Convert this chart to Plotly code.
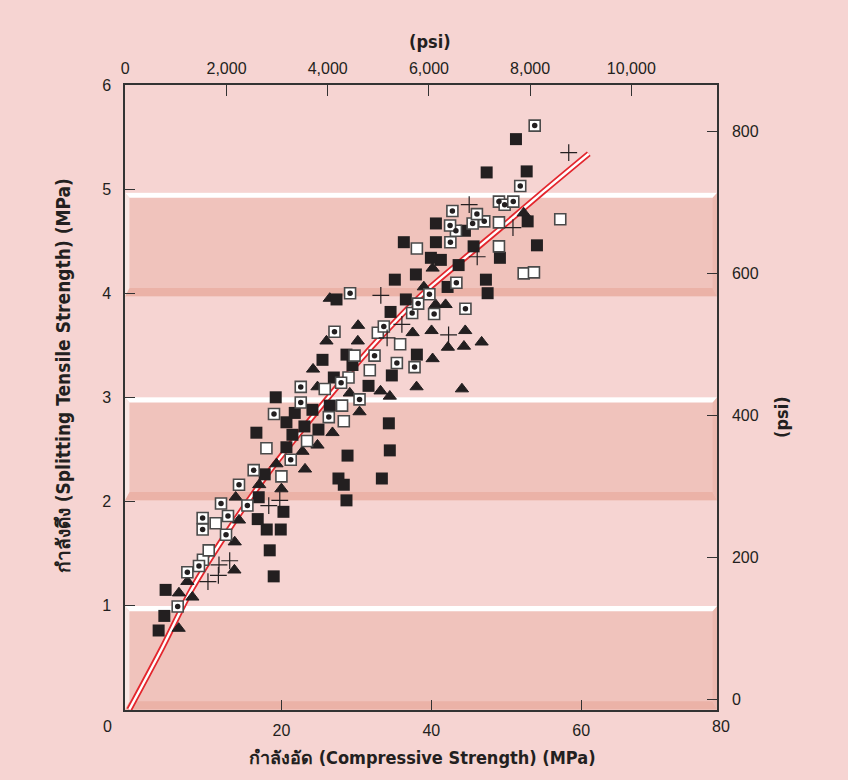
import plotly.graph_objects as go

# ---------------- data (MPa) ----------------
# Filled black squares
sq_x = [3.62, 4.38, 4.55, 18.97, 18.44, 18.04, 19.91, 16.84, 20.27, 16.97, 28.68, 17.77, 27.61, 28.32,
        33.40, 34.46, 28.82, 20.67, 16.66, 21.47, 24.94, 23.07, 20.67, 34.33, 21.78, 24.14, 26.45, 19.24,
        31.62, 26.99, 34.73, 29.48, 25.48, 28.68, 38.07, 34.56, 27.35, 36.60, 47.51, 42.17, 47.28, 35.13,
        37.94, 43.64, 41.27, 39.94, 49.15, 45.64, 54.09, 36.33, 40.61, 44.48, 40.61, 52.85, 47.38, 52.72, 51.29]
sq_y = [0.76, 0.90, 1.15, 1.28, 1.53, 1.73, 1.73, 1.83, 1.90, 2.04, 2.01, 2.26, 2.22, 2.16,
        2.22, 2.49, 2.44, 2.52, 2.66, 2.64, 2.69, 2.72, 2.76, 2.75, 2.85, 2.88, 2.92, 3.00,
        3.11, 3.19, 3.21, 3.31, 3.36, 3.41, 3.41, 3.82, 3.94, 3.94, 4.00, 4.06, 4.13, 4.13,
        4.18, 4.27, 4.32, 4.34, 4.34, 4.45, 4.46, 4.49, 4.49, 4.60, 4.67, 4.69, 5.16, 5.17, 5.48]

# Open squares with a centre dot
dot_x = [6.16, 7.45, 9.00, 9.49, 9.49, 12.61, 12.87, 11.94, 15.46, 14.34, 16.30, 21.24, 19.01, 22.58,
         26.32, 30.42, 22.58, 27.96, 32.42, 35.40, 37.76, 27.08, 33.66, 29.16, 37.44, 40.37, 38.24, 44.55,
         39.74, 43.34, 42.54, 43.28, 42.50, 45.51, 47.06, 46.08, 42.81, 49.02, 49.78, 50.93, 51.86, 53.79]
dot_y = [0.99, 1.32, 1.38, 1.73, 1.84, 1.68, 1.86, 1.98, 1.96, 2.16, 2.30, 2.40, 2.84, 2.95,
         2.81, 2.98, 3.10, 3.14, 3.40, 3.33, 3.29, 3.63, 3.68, 4.00, 3.81, 3.80, 3.90, 3.85,
         3.99, 4.10, 4.49, 4.60, 4.65, 4.67, 4.69, 4.76, 4.79, 4.88, 4.85, 4.88, 5.03, 5.61]

# Open (white) squares
osq_x = [9.53, 10.30, 11.23, 20.00, 18.00, 23.42, 28.32, 28.09, 25.78, 28.95, 31.79, 29.75, 32.86,
         35.84, 38.07, 49.02, 49.02, 57.20, 52.32, 53.69]
osq_y = [1.44, 1.53, 1.79, 2.24, 2.51, 2.58, 2.77, 2.92, 3.08, 3.19, 3.26, 3.40, 3.62,
         3.51, 4.43, 4.68, 4.45, 4.71, 4.19, 4.20]

# Filled triangles
tri_x = [6.29, 6.33, 8.12, 7.45, 13.73, 13.77, 14.34, 13.90, 17.04, 20.00, 19.34, 23.15, 22.81, 24.81,
         26.81, 30.42, 29.12, 24.81, 33.22, 34.46, 38.03, 44.08, 24.22, 40.17, 26.01, 30.19, 30.23, 37.50,
         40.03, 44.52, 42.21, 44.35, 46.71, 26.45, 39.00, 40.57, 41.90, 40.17, 52.32]
tri_y = [0.78, 1.12, 1.08, 1.23, 1.34, 1.61, 1.82, 2.04, 2.16, 2.12, 2.36, 2.31, 2.48, 2.54,
         2.66, 2.86, 3.04, 3.10, 3.06, 3.01, 3.10, 3.08, 3.27, 3.37, 3.54, 3.54, 3.69, 3.62,
         3.64, 3.64, 3.48, 3.49, 3.53, 3.95, 4.06, 3.89, 3.89, 4.24, 4.77]

# Plus signs
plus_x = [10.20, 11.59, 11.67, 13.10, 18.31, 19.78, 33.26, 36.07, 34.10, 42.30, 46.12, 50.89, 45.05, 58.33]
plus_y = [1.23, 1.29, 1.39, 1.43, 1.96, 2.01, 3.98, 3.70, 3.57, 3.60, 4.35, 4.63, 4.85, 5.35]

# Trend curve
curve_x = [-0.3, 4, 8, 13, 18, 23, 28, 33, 38.5, 44, 49, 55, 61]
curve_y = [0.0, 0.58, 1.15, 1.73, 2.25, 2.71, 3.15, 3.56, 3.97, 4.31, 4.61, 4.98, 5.34]

# Shaded bands (MPa)
bands = [(0.0, 0.995), (2.01, 3.0), (3.97, 4.966)]

# Tick labels
x_ticks = [20, 40, 60]
y_ticks = [1, 2, 3, 4, 5, 6]
psi_top_ticks = [0, 2000, 4000, 6000, 8000, 10000]
psi_top_labels = ["0", "2,000", "4,000", "6,000", "8,000", "10,000"]
psi_right_ticks = [0, 200, 400, 600, 800]

# ---------------- styling ----------------
BG = "#f6d4d2"
BAND = "#f0c3bc"
STRIP = "#ebb2a7"
RSTRIP = "#ecb9b0"
LBEVEL = "#f9e7e4"
INK = "#231f20"
AX = "#333333"
TITLE = "Liberation Sans Narrow, DejaVu Sans Condensed, Arial Narrow, sans-serif"
REG = "Liberation Sans, Arial, Helvetica, sans-serif"

fig = go.Figure()

# curve (red outline with white core)
fig.add_trace(go.Scatter(x=curve_x, y=curve_y, mode="lines",
                         line=dict(color="#e3262d", width=6, shape="spline", smoothing=0.8),
                         hoverinfo="skip", showlegend=False))
fig.add_trace(go.Scatter(x=curve_x, y=curve_y, mode="lines",
                         line=dict(color="white", width=2.4, shape="spline", smoothing=0.8),
                         hoverinfo="skip", showlegend=False))

fig.add_trace(go.Scatter(x=tri_x, y=tri_y, mode="markers", showlegend=False,
                         marker=dict(symbol="triangle-up", size=11.5, color=INK,
                                     line=dict(color=INK, width=1))))
fig.add_trace(go.Scatter(x=sq_x, y=sq_y, mode="markers", showlegend=False,
                         marker=dict(symbol="square", size=12, color=INK,
                                     line=dict(width=0))))
fig.add_trace(go.Scatter(x=osq_x, y=osq_y, mode="markers", showlegend=False,
                         marker=dict(symbol="square", size=11, color="white",
                                     line=dict(color="#4a4a4a", width=1.6))))
fig.add_trace(go.Scatter(x=dot_x, y=dot_y, mode="markers", showlegend=False,
                         marker=dict(symbol="square", size=11, color="white",
                                     line=dict(color="#4a4a4a", width=1.6))))
fig.add_trace(go.Scatter(x=dot_x, y=dot_y, mode="markers", showlegend=False,
                         marker=dict(symbol="circle", size=5.5, color=INK, line=dict(width=0))))
fig.add_trace(go.Scatter(x=plus_x, y=plus_y, mode="markers", showlegend=False,
                         marker=dict(symbol="cross-thin", size=12, color=INK,
                                     line=dict(color=INK, width=1.2))))
# dummy trace so the psi axes exist
fig.add_trace(go.Scatter(x=[None], y=[None], xaxis="x2", yaxis="y2", mode="markers",
                         showlegend=False, hoverinfo="skip"))

# bands as bevelled panels
shapes = []
lw, rw = 0.0075, 0.0075   # bevel widths in paper units
top_t, bot_t = 0.05, 0.08  # bevel thickness in MPa
for lo, hi in bands:
    base = dict(xref="paper", yref="y", layer="below", line=dict(width=0))
    shapes.append(dict(type="rect", x0=0, x1=1, y0=lo, y1=hi, fillcolor=BAND, **base))
    shapes.append(dict(type="path", fillcolor=STRIP,
                       path=f"M0,{lo} L1,{lo} L{1-rw},{lo+bot_t} L{lw},{lo+bot_t} Z", **base))
    shapes.append(dict(type="path", fillcolor=RSTRIP,
                       path=f"M1,{lo} L1,{hi} L{1-rw},{hi-top_t} L{1-rw},{lo+bot_t} Z", **base))
    shapes.append(dict(type="path", fillcolor=LBEVEL,
                       path=f"M0,{lo} L0,{hi} L{lw},{hi-top_t} L{lw},{lo+bot_t} Z", **base))
    shapes.append(dict(type="path", fillcolor="white",
                       path=f"M0,{hi} L1,{hi} L{1-rw},{hi-top_t} L{lw},{hi-top_t} Z", **base))

ann_font = dict(family=TITLE, size=18, color=INK)
annotations = [
    dict(text="<b>(psi)</b>", x=0.515, y=1.069, xref="paper", yref="paper",
         showarrow=False, font=ann_font, xanchor="center", yanchor="middle"),
    dict(text="<b>กำลังอัด (Compressive Strength) (MPa)</b>", x=0.503, y=-0.0752,
         xref="paper", yref="paper", showarrow=False, font=ann_font,
         xanchor="center", yanchor="middle"),
    dict(text="<b>กำลังดึง (Splitting Tensile Strength) (MPa)</b>", x=-0.1047, y=0.534,
         xref="paper", yref="paper", showarrow=False,
         font=dict(family=TITLE, size=19, color=INK), textangle=-90,
         xanchor="center", yanchor="middle"),
    dict(text="<b>(psi)</b>", x=1.1098, y=0.469, xref="paper", yref="paper",
         showarrow=False, font=ann_font, textangle=-90, xanchor="center", yanchor="middle"),
    dict(text="0", x=-0.0294, y=-0.0256, xref="paper", yref="paper", showarrow=False,
         font=dict(family=REG, size=16, color=INK), xanchor="center", yanchor="middle"),
    dict(text="80", x=1.006, y=-0.0256, xref="paper", yref="paper", showarrow=False,
         font=dict(family=REG, size=16, color=INK), xanchor="center", yanchor="middle"),
]

axis_common = dict(showgrid=False, zeroline=False, showline=True, linecolor=AX, linewidth=1.5,
                   ticks="inside", tickcolor=AX, tickwidth=1.2)

fig.update_layout(
    width=848, height=780,
    margin=dict(l=125, r=131, t=85, b=70),
    paper_bgcolor=BG, plot_bgcolor=BG,
    shapes=shapes, annotations=annotations,
    showlegend=False,
    xaxis=dict(range=[-0.868, 78.11], tickvals=x_ticks, ticklen=10,
               tickfont=dict(family=REG, size=16, color=INK), ticklabelstandoff=5,
               **axis_common),
    yaxis=dict(range=[-0.0038, 6.0], tickvals=y_ticks, ticklen=10,
               tickfont=dict(family=REG, size=16, color=INK), ticklabelstandoff=9,
               **axis_common),
    xaxis2=dict(range=[-5.9, 11693], overlaying="x", side="top", anchor="y",
                tickvals=psi_top_ticks, ticktext=psi_top_labels, ticklen=11,
                tickfont=dict(family=REG, size=16, color=INK), ticklabelstandoff=3,
                **axis_common),
    yaxis2=dict(range=[-15.5, 864.8], overlaying="y", side="right", anchor="x",
                tickvals=psi_right_ticks, ticklen=10,
                tickfont=dict(family=REG, size=16, color=INK), ticklabelstandoff=10,
                **axis_common),
)

fig.write_html("out.html", config={"displayModeBar": False},
               post_script="document.body.style.margin='0';"
                           "document.body.style.background='" + BG + "';")
